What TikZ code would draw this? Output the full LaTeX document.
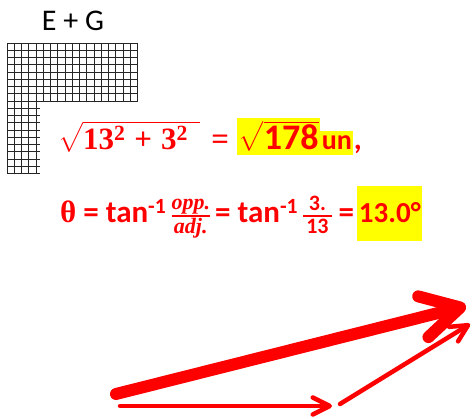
\documentclass[tikz,border=0pt]{standalone}
\usepackage{amsmath}
\usepackage[no-math]{fontspec}
\setmainfont{Carlito}
\newfontfamily\serifgreek{Liberation Serif}
\definecolor{Vcol}{HTML}{FF0000}
\definecolor{Hcol}{HTML}{FFFF00}
\usetikzlibrary{arrows.meta, positioning}
\newcommand{\ratio}[3][0pt]{{\fontsize{22}{22}\selectfont\setlength{\arrayrulewidth}{1.8pt}%
    \renewcommand{\arraystretch}{0.9}%
    \begin{tabular}{@{\hspace{#1}}c@{\hspace{#1}}}#2\\[-1pt]\hline\rule{0pt}{17pt}#3\end{tabular}}}
\tikzset{
    >=Stealth,
    eqn/.style={text=Vcol, inner sep=0pt, font=\fontsize{31}{33}\selectfont\bfseries},
    hilite/.style={fill=Hcol, inner xsep=1.5pt, inner ysep=3pt},
    gridline/.style={black!85, line width=0.6pt},
    vecline/.style={draw=Vcol, line cap=round}
}

\begin{document}
\begin{tikzpicture}[x=1pt, y=-1pt]
    \useasboundingbox (0,0) rectangle (475,419);

    % Title
    \node[font=\fontsize{30}{32}\selectfont] (title) at (73,21) {E + G};

    % Grid of squares
    \foreach \i in {0,...,18}
        \draw[gridline] ({7+7.25*\i},43) -- ({7+7.25*\i},101);
    \foreach \i in {0,...,4}
        \draw[gridline] ({7+7.25*\i},101) -- ({7+7.25*\i},173.5);
    \foreach \j in {0,...,8}
        \draw[gridline] (7,{43+7.25*\j}) -- (137.5,{43+7.25*\j});
    \foreach \j in {9,...,18}
        \draw[gridline] (7,{43+7.25*\j}) -- (40,{43+7.25*\j});

    % Magnitude
    \node[eqn, anchor=base west] (rootsum) at (58,150)
        {$\sqrt{\mbox{\serifgreek\bfseries 13\textsuperscript{2}\hspace{9pt}+\hspace{9pt}3\textsuperscript{2}\hspace{12pt}}}$};
    \node[eqn, anchor=base west] (eqone) at ([xshift=11pt]rootsum.base east) {\serifgreek =};
    \node[eqn, hilite, anchor=base west] (mag) at ([xshift=8pt]eqone.base east)
        {$\sqrt{\mbox{\fontsize{36}{36}\selectfont\bfseries 178}}$};
    \node[eqn, hilite, anchor=base west, inner ysep=5pt, font=\fontsize{28}{30}\selectfont\bfseries] (unit) at (mag.base east) {un};
    \node[eqn, anchor=base west] (comma) at (unit.base east) {,};

    % Direction
    \node[eqn, anchor=base west] (angle) at (60,223)
        {{\serifgreek θ} = tan\textsuperscript{-1}\,\ratio{\serifgreek\itshape opp.}{\serifgreek\itshape adj.}\,= tan\textsuperscript{-1}\,\ratio[3pt]{3.}{13} =};
    \node[eqn, hilite, anchor=base west, inner ysep=0pt, minimum height=55pt, font=\fontsize{29}{30}\selectfont\bfseries] (result) at ([xshift=3pt]angle.base east) {13.0\textdegree};

    % Vectors
    \coordinate (bigtail) at (116,394);
    \coordinate (bigtip) at (466,306);
    \coordinate (etail) at (120,406);
    \coordinate (etip) at (332,406);
    \coordinate (gtail) at (340,404);
    \coordinate (gtip) at (470,324);

    \draw[vecline, line width=12pt, -{Straight Barb[length=38pt, width=42pt, round]}] (bigtail) -- (bigtip);
    \draw[vecline, line width=4.5pt, -{Straight Barb[length=17pt, width=17pt, round]}] (etail) -- (etip);
    \draw[vecline, line width=4.5pt, -{Straight Barb[length=17pt, width=17pt, round]}] (gtail) -- (gtip);
\end{tikzpicture}
\end{document}
